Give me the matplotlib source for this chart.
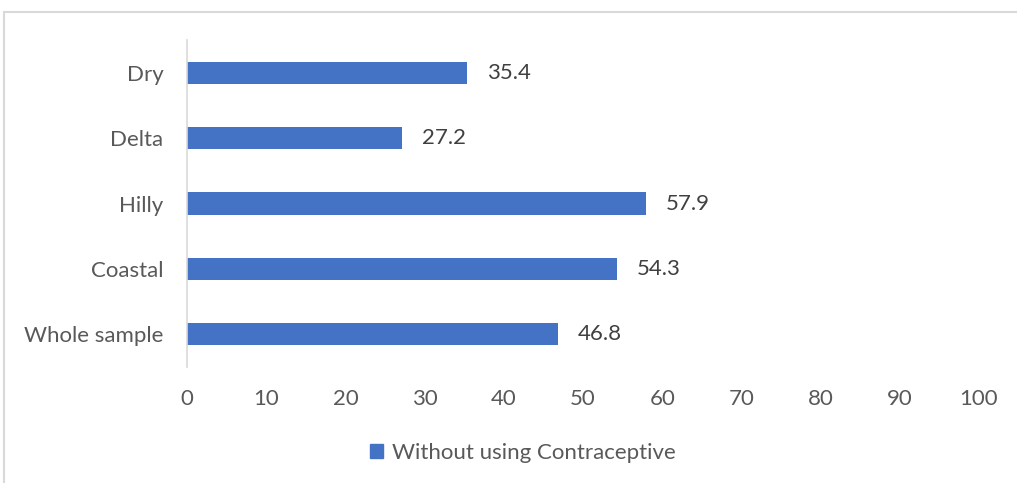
import matplotlib
matplotlib.use("Agg")
import matplotlib.pyplot as plt
from matplotlib.patches import Rectangle, Patch

categories = ["Whole sample", "Coastal", "Hilly", "Delta", "Dry"]
values = [46.8, 54.3, 57.9, 27.2, 35.4]
xticks = [0, 10, 20, 30, 40, 50, 60, 70, 80, 90, 100]
series_name = "Without using Contraceptive"

bar_color = "#4472C4"
plt.rcParams["font.family"] = ["Lato", "DejaVu Sans"]
fs = 16

W, H = 1017, 483
fig = plt.figure(figsize=(W / 100, H / 100), dpi=100)
ax = fig.add_axes([187 / W, 1 - 367 / H, (979 - 187) / W, (367 - 40) / H])

y = range(len(categories))
ax.barh(y, values, height=0.34, color=bar_color, zorder=2)
for yi, v in zip(y, values):
    ax.text(v + 2.5, yi, f"{v:.1f}", va="center", ha="left",
            fontsize=fs, color="#404040")

ax.set_xlim(0, 100)
ax.set_ylim(-0.5, len(categories) - 0.5)
ax.set_xticks(xticks)
ax.set_xticklabels([str(t) for t in xticks])
ax.set_yticks(list(y))
ax.set_yticklabels(categories)
ax.tick_params(axis="x", length=0, pad=16, labelsize=fs, labelcolor="#595959")
ax.tick_params(axis="y", length=0, pad=17, labelsize=fs, labelcolor="#595959")
for side in ("top", "right", "bottom"):
    ax.spines[side].set_visible(False)
ax.spines["left"].set_color("#d9d9d9")
ax.spines["left"].set_linewidth(1.2)

# legend below the plot
leg = fig.legend(handles=[Patch(color=bar_color, label=series_name)],
                 loc="center", bbox_to_anchor=(523 / W, 1 - 453 / H),
                 frameon=False, fontsize=fs, handlelength=0.6, handleheight=0.6,
                 handletextpad=0.4)
for t in leg.get_texts():
    t.set_color("#595959")

# chart area outline
fig.patches.append(Rectangle((4 / W, -0.1), 1.2, (H - 12) / H + 0.1,
                             transform=fig.transFigure, fill=False,
                             edgecolor="#d9d9d9", linewidth=1.5))

fig.savefig("out.png", dpi=100)
